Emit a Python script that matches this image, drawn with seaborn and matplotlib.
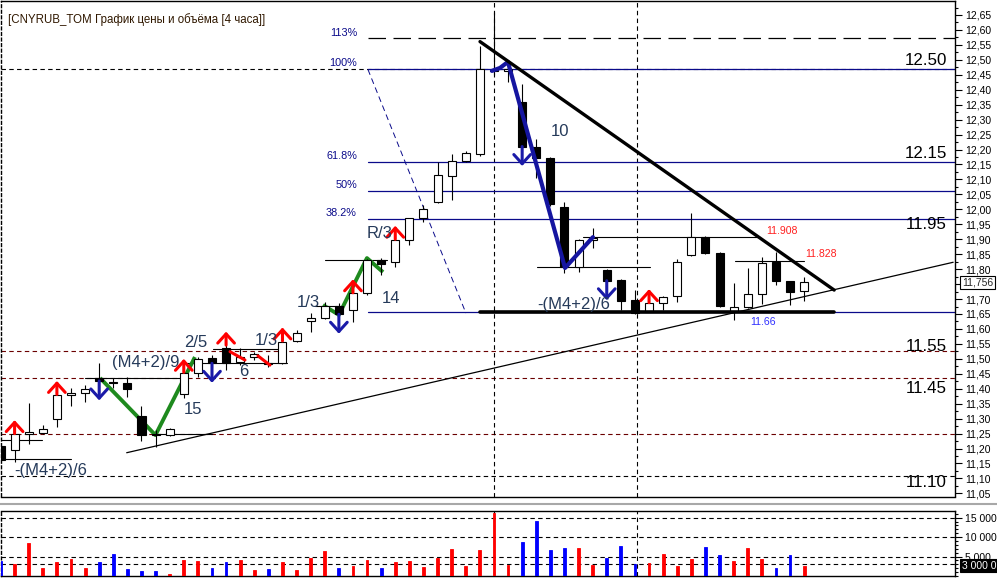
import matplotlib

matplotlib.use("Agg")

import matplotlib.pyplot as plt
import matplotlib.transforms as mtransforms
import numpy as np
import pandas as pd
import seaborn as sns
from matplotlib.lines import Line2D
from matplotlib.ticker import FixedLocator, FuncFormatter, MultipleLocator

# CNYRUB_TOM, 4h bars
opens = [11.208, 11.195, 11.248, 11.253, 11.298, 11.378, 11.385, 11.435, 11.421, 11.418,
         11.309, 11.246, 11.245, 11.381, 11.452, 11.502, 11.535, 11.488, 11.507, 11.486,
         11.485, 11.560, 11.627, 11.636, 11.677, 11.663, 11.719, 11.831, 11.823, 11.898,
         11.970, 12.026, 12.112, 12.163, 12.185, 12.462, 12.462, 12.358, 12.210, 12.171,
         12.007, 11.808, 11.898, 11.797, 11.764, 11.697, 11.658, 11.686, 11.710, 11.847,
         11.907, 11.855, 11.658, 11.674, 11.716, 11.825, 11.760, 11.727]
highs = [11.225, 11.250, 11.351, 11.279, 11.381, 11.401, 11.413, 11.485, 11.437, 11.440,
         11.342, 11.262, 11.268, 11.455, 11.507, 11.513, 11.546, 11.535, 11.524, 11.513,
         11.560, 11.597, 11.652, 11.691, 11.687, 11.721, 11.835, 11.836, 11.900, 11.972,
         12.015, 12.159, 12.185, 12.196, 12.546, 12.660, 12.494, 12.419, 12.234, 12.175,
         12.026, 11.900, 11.937, 11.800, 11.766, 11.730, 11.688, 11.710, 11.834, 11.987,
         11.910, 11.858, 11.753, 11.803, 11.840, 11.858, 11.762, 11.773]
lows = [11.150, 11.156, 11.214, 11.248, 11.271, 11.342, 11.355, 11.385, 11.401, 11.373,
        11.226, 11.206, 11.243, 11.370, 11.438, 11.469, 11.463, 11.479, 11.496, 11.474,
        11.482, 11.557, 11.591, 11.634, 11.643, 11.624, 11.715, 11.780, 11.808, 11.881,
        11.959, 12.020, 12.031, 12.159, 12.180, 12.449, 12.427, 12.205, 12.104, 12.012,
        11.787, 11.791, 11.870, 11.758, 11.663, 11.650, 11.655, 11.663, 11.691, 11.845,
        11.850, 11.674, 11.630, 11.669, 11.683, 11.747, 11.680, 11.694]
closes = [11.162, 11.248, 11.254, 11.266, 11.379, 11.386, 11.398, 11.426, 11.419, 11.398,
          11.245, 11.244, 11.265, 11.452, 11.498, 11.485, 11.487, 11.507, 11.516, 11.484,
          11.557, 11.588, 11.636, 11.677, 11.649, 11.719, 11.831, 11.816, 11.898, 11.970,
          12.000, 12.115, 12.163, 12.187, 12.468, 12.466, 12.468, 12.210, 12.171, 12.017,
          11.808, 11.898, 11.905, 11.761, 11.694, 11.652, 11.686, 11.708, 11.825, 11.907,
          11.855, 11.677, 11.674, 11.716, 11.820, 11.761, 11.725, 11.756]
volumes = [3860, 3160, 8410, 2140, 3520, 4450, 2140, 3520, 5580, 1880,
           1210, 1210, 440, 4030, 3770, 2140, 3520, 4030, 1460, 1880,
           3520, 1460, 4710, 6350, 2140, 2650, 4030, 2140, 3520, 3770,
           2400, 4710, 6870, 2650, 6610, 16300, 2910, 8830, 14230, 6610,
           7290, 7290, 2910, 4710, 7800, 3160, 3260, 5580, 2650, 4290,
           7540, 5320, 3770, 7290, 4290, 2140, 5320, 2650]

# signal arrows (bar indexes)
buy_signals = [1, 4, 13, 16, 20, 25, 28, 46]
sell_signals = [0, 7, 15, 24, 37, 43]

# fibonacci grid
fib_low, fib_high, fib_start = 11.656, 12.468, 26.04
fib_levels = [0.0, 0.382, 0.5, 0.618, 1.0]
fib_names = ["38.2%", "50%", "61.8%", "100%"]
fib_label_prices = [11.989, 12.080, 12.178, 12.491]

# user levels
grid_levels = [12.468, 11.527, 11.436, 11.248, 11.108]
grid_colors = ["black", "#6b0000", "#6b0000", "#6b0000", "black"]
level_labels = ["12.50", "12.15", "11.95", "11.55", "11.45", "11.10"]
level_label_prices = [12.498, 12.188, 11.948, 11.541, 11.402, 11.086]
day_breaks = [35.02, 45.11]

# trader drawings in (bar, price)
down_trend = [(34.01, 12.561), (59.13, 11.730)]
up_trend = [(8.95, 11.186), (67.57, 11.823)]
support = [(34.01, 11.656), (59.13, 11.656)]
fib_diag = [(26.06, 12.468), (33.01, 11.653)]
green_waves = [[(7.06, 11.436), (10.99, 11.245), (13.79, 11.506)],
               [(22.87, 11.680), (24.0, 11.647), (25.99, 11.837), (27.13, 11.790)]]
blue_wave = [(34.86, 12.463), (35.43, 12.473), (35.99, 12.493), (40.04, 11.804), (42.02, 11.907)]
red_ticks = [[(16.28, 11.524), (17.34, 11.496)], [(18.26, 11.510), (19.11, 11.479)]]
segments = [(11.907, 41.31, 53.87), (11.828, 52.09, 56.99), (11.808, 38.05, 46.06),
            (11.831, 23.0, 27.4), (11.677, 22.3, 24.3), (11.532, 15.07, 19.68),
            (11.485, 12.87, 20.32), (11.435, 5.99, 12.87), (11.248, 10.96, 14.98),
            (11.229, -1, 2.94), (11.165, -1, 5.0)]
notes = [("(M4+2)/9", 10.32, 11.489), ("2/5", 13.87, 11.553), ("1/3", 18.83, 11.563),
         ("6", 17.27, 11.459), ("15", 13.65, 11.329), ("1/3", 21.81, 11.687),
         ("-(M4+2)/6", 3.58, 11.125), ("14", 27.7, 11.703), ("-(M4+2)/6", 40.67, 11.683),
         ("R/3", 26.91, 11.918), ("10", 39.68, 12.259)]
price_marks = [("11.908", 55.43, 11.928, "#ff2020"), ("11.828", 58.19, 11.849, "#ff2020"),
               ("11.66", 54.08, 11.622, "#3030ff")]

sns.set_theme(style="white")
plt.rcParams["font.family"] = ["Liberation Sans", "DejaVu Sans"]

W, H = 997, 581
fig = plt.figure(figsize=(W / 100, H / 100), dpi=100)
ax = fig.add_axes([1 / W, 84.5 / H, 954 / W, 495.5 / H])
axv = fig.add_axes([1 / W, 5 / H, 954 / W, 65 / H])

bars = np.arange(len(opens))
o, h, l, c = map(np.array, (opens, highs, lows, closes))
up = c >= o
xlim = (0.0355, 67.70)

# candles
ax.vlines(bars, l, h, color="black", lw=0.8, zorder=3)
body_lo = np.minimum(o, c)
body_h = np.maximum(np.abs(c - o), 0.003)
ax.bar(bars, body_h, bottom=body_lo, width=0.57, color=np.where(up, "white", "black"),
       edgecolor="black", linewidth=0.8, zorder=4)

# grid / levels
for lvl, col in zip(grid_levels, grid_colors):
    ax.axhline(lvl, color=col, lw=0.8, ls=(0, (4, 3)), zorder=1)
for xb in day_breaks:
    ax.axvline(xb, color="black", lw=0.8, ls=(0, (4, 3)), zorder=1)
    axv.axvline(xb, color="black", lw=0.8, ls=(0, (4, 3)), zorder=1)

fib_col = "#0a0a8a"
for f in fib_levels:
    ax.plot([fib_start, xlim[1]], [fib_low + f * (fib_high - fib_low)] * 2, color=fib_col, lw=0.9, zorder=2)
ax.plot([fib_start, xlim[1]], [fib_low + 1.13 * (fib_high - fib_low)] * 2, color="black", lw=0.9,
        ls=(0, (14, 6)), zorder=2)
ax.plot(*zip(*fib_diag), color=fib_col, lw=0.7, ls=(0, (6, 4)), zorder=2)
for name, p in zip(fib_names, fib_label_prices):
    ax.text(25.28, p, name, color=fib_col, fontsize=7.8, ha="right", va="center")
ax.text(25.28, 12.591, "113%", color=fib_col, fontsize=7.8, ha="right", va="center")

for p, x0, x1 in segments:
    ax.plot([x0, x1], [p, p], color="black", lw=0.8, zorder=2)

for pts in green_waves:
    ax.plot(*zip(*pts), color="#1e8a1e", lw=2.8, zorder=2.5, solid_capstyle="butt")
ax.plot(*zip(*blue_wave), color="#1515a0", lw=3, zorder=5)
for pts in red_ticks:
    ax.plot(*zip(*pts), color="#ff0000", lw=2.2, zorder=5)

ax.plot(*zip(*down_trend), color="black", lw=2.4, zorder=5)
ax.plot(*zip(*up_trend), color="black", lw=0.9, zorder=5)
ax.plot(*zip(*support), color="black", lw=2.6, zorder=5)

for i in buy_signals:
    ax.annotate("", xy=(i, h[i] + 0.045), xytext=(i, h[i]),
                arrowprops=dict(arrowstyle="->,head_length=0.55,head_width=0.5", color="#ff0000",
                                lw=2.2, shrinkA=0, shrinkB=0), zorder=6)
for i in sell_signals:
    ax.annotate("", xy=(i, body_lo[i] - 0.065), xytext=(i, body_lo[i]),
                arrowprops=dict(arrowstyle="->,head_length=0.55,head_width=0.5", color="#1a1aa8",
                                lw=2.2, shrinkA=0, shrinkB=0), zorder=6)

for txt, x, y in notes:
    ax.text(x, y, txt, color="#253a5a", fontsize=12, ha="center", va="center", zorder=7)
for txt, y in zip(level_labels, level_label_prices):
    ax.text(67.13, y, txt, color="black", fontsize=12.2, ha="right", va="center", zorder=7)
for txt, x, y, col in price_marks:
    ax.text(x, y, txt, color=col, fontsize=7.6, ha="center", va="center", zorder=7)

ax.text(0.008 - 1 / W, 0.9635, "[CNYRUB_TOM График цены и объёма [4 часа]]", transform=ax.transAxes,
        color="#301800", fontsize=8.3, ha="left", va="center")

ax.set_xlim(*xlim)
ax.set_ylim(11.0396, 12.6968)
ax.set_xticks([])
ax.yaxis.tick_right()
major_ticks = np.round(np.arange(11.05, 12.66, 0.05), 2)
ax.yaxis.set_major_locator(FixedLocator(major_ticks))
ax.yaxis.set_minor_locator(FixedLocator(np.round(np.arange(11.075, 12.68, 0.05), 3)))
last = closes[-1]
ax.yaxis.set_major_formatter(FuncFormatter(
    lambda v, _: "" if abs(v - last) < 0.02 else f"{v:.2f}".replace(".", ",")))
ax.tick_params(axis="y", which="major", length=5, width=0.8, pad=2, labelsize=7.5, colors="black")
ax.tick_params(axis="y", which="minor", length=2.5, width=0.8, colors="black")

trans = mtransforms.blended_transform_factory(ax.transAxes, ax.transData)
ax.text(1.0073, last, f"{last:.3f}".replace(".", ","), transform=trans, fontsize=7.5,
        va="center", ha="left", clip_on=False, zorder=10,
        bbox=dict(boxstyle="square,pad=0.15", fc="white", ec="black", lw=0.8))

# volume panel
vol_df = pd.DataFrame({"bar": bars, "volume": volumes, "side": np.where(up, "up", "down")})
sns.barplot(data=vol_df, x="bar", y="volume", hue="side", palette={"up": "#ff0000", "down": "#0000ff"},
            native_scale=True, dodge=False, width=0.2, saturation=1, legend=False, ax=axv, zorder=3,
            linewidth=0.6, edgecolor=None)
for patch in axv.patches:
    patch.set_edgecolor(patch.get_facecolor())
for v in [15000, 10000, 5000, 3000]:
    axv.axhline(v, color="black", lw=0.8, ls=(0, (4, 3)), zorder=1)
axv.set_xlim(*xlim)
axv.set_ylim(0, 16724)
axv.set_xticks([])
axv.set_xlabel("")
axv.set_ylabel("")
axv.yaxis.tick_right()
axv.yaxis.set_major_locator(FixedLocator([5000, 10000, 15000]))
axv.yaxis.set_minor_locator(MultipleLocator(1000))
axv.yaxis.set_major_formatter(FuncFormatter(lambda v, _: f"{int(v):,}".replace(",", " ")))
axv.tick_params(axis="y", which="major", length=5, width=0.8, pad=2, labelsize=7.5, colors="black")
axv.tick_params(axis="y", which="minor", length=2.5, width=0.8, colors="black")
transv = mtransforms.blended_transform_factory(axv.transAxes, axv.transData)
axv.text(1.0073, 2650, "3 000 0", transform=transv, fontsize=7.5, color="white", va="center",
         ha="left", clip_on=False, zorder=10,
         bbox=dict(boxstyle="square,pad=0.15", fc="black", ec="black", lw=0.8))

for a in (ax, axv):
    for side in ("top", "right", "bottom"):
        a.spines[side].set_color("black")
        a.spines[side].set_linewidth(1)
    a.spines["left"].set_color("black")
    a.spines["left"].set_linestyle((0, (2, 2)))
    a.spines["left"].set_linewidth(1)

fig.add_artist(Line2D([0, 1], [(H - 504) / H] * 2, transform=fig.transFigure, color="#a8a8a8", lw=1.5))

fig.savefig("out.png", dpi=100)
plt.close(fig)
